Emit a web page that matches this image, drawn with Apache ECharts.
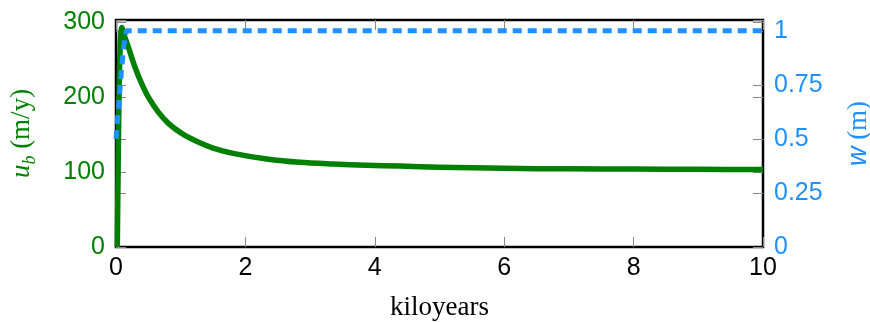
<!DOCTYPE html>
<html>
<head>
<meta charset="utf-8">
<script src="https://cdn.jsdelivr.net/npm/echarts@6/dist/echarts.min.js"></script>
<style>
  html, body { margin: 0; padding: 0; background: #fff; }
  #chart { width: 870px; height: 322px; }
</style>
</head>
<body>
<div id="chart"></div>
<script>
  // 数据
  const ubYears = [0.02, 0.035, 0.05, 0.065, 0.078, 0.088, 0.1, 0.13, 0.19, 0.294, 0.397, 0.5, 0.654, 0.81, 1.015, 1.27, 1.5, 1.81, 2.33, 2.84, 3.36, 3.87, 4.39, 5, 6, 7, 8, 9, 10];
  const ubValues = [0, 120, 220, 270, 288, 293, 291, 282, 267, 240, 218, 200, 180, 165, 151.6, 140, 132, 125, 117.5, 113, 110.7, 109, 108, 106.5, 105, 104.3, 104, 103.7, 103.5];
  const wYears = [0, 0.04, 0.08, 0.12, 0.16, 10];
  const wValues = [0.5, 0.65, 0.8, 0.93, 1, 1];
  const xTicks = [0, 2, 4, 6, 8, 10];
  const ubTicks = [0, 100, 200, 300];
  const wTicks = [0, 0.25, 0.5, 0.75, 1];

  const green = "#008000";
  const blue = "#1E90FF";
  const sans = "Liberation Sans";
  const serif = "Liberation Serif";

  const tickStyle = { show: true, inside: true, length: 10, lineStyle: { color: "#888", width: 1 } };

  const chart = echarts.init(document.getElementById("chart"), null, { renderer: "canvas" });

  chart.setOption({
    animation: false,
    grid: {
      left: 116,
      right: 107,
      top: 20,
      bottom: 75,
      outerBoundsMode: "none",
      show: true,
      borderColor: "#000",
      borderWidth: 2.5,
      backgroundColor: "transparent",
    },
    xAxis: [
      {
        type: "value",
        position: "bottom",
        min: xTicks[0],
        max: xTicks[xTicks.length - 1],
        interval: 2,
        axisLine: { show: false, onZero: false },
        axisTick: tickStyle,
        splitLine: { show: false },
        axisLabel: { color: "#000", fontFamily: sans, fontSize: 25, margin: 9 },
        name: "kiloyears",
        nameLocation: "middle",
        nameGap: 47,
        nameTextStyle: { color: "#000", fontFamily: serif, fontSize: 27 },
      },
      {
        // 上边的刻度
        type: "value",
        position: "top",
        min: 0,
        max: 10,
        interval: 2,
        axisLine: { show: false, onZero: false },
        axisTick: tickStyle,
        splitLine: { show: false },
        axisLabel: { show: false },
      },
    ],
    yAxis: [
      {
        type: "value",
        position: "left",
        min: 0,
        max: 303,
        interval: 100,
        axisLine: { show: false, onZero: false },
        axisTick: tickStyle,
        splitLine: { show: false },
        axisLabel: {
          color: green,
          fontFamily: sans,
          fontSize: 25,
          margin: 11,
          formatter: (v) => (ubTicks.includes(v) ? String(v) : ""),
        },
        name: "{u|u}{b|b}{p|\u00a0(m/y)}",
        nameLocation: "middle",
        nameRotate: 90,
        nameGap: 80,
        nameTextStyle: {
          color: green,
          rich: {
            u: { fontFamily: serif, fontStyle: "italic", fontSize: 27, lineHeight: 28, verticalAlign: "top", color: green },
            b: { fontFamily: serif, fontStyle: "italic", fontSize: 18, lineHeight: 18, padding: [13, 0, 0, 0], verticalAlign: "top", color: green },
            p: { fontFamily: serif, fontSize: 27, lineHeight: 28, verticalAlign: "top", color: green },
          },
        },
      },
      {
        type: "value",
        position: "right",
        min: 0,
        max: 1.05,
        interval: 0.25,
        axisLine: { show: false, onZero: false },
        axisTick: tickStyle,
        splitLine: { show: false },
        axisLabel: {
          color: blue,
          fontFamily: sans,
          fontSize: 25,
          margin: 11,
          formatter: (v) => (wTicks.includes(v) ? String(v) : ""),
        },
        name: "{w|w}{p|\u00a0(m)}",
        nameLocation: "middle",
        nameRotate: 90,
        nameGap: 82,
        nameTextStyle: {
          color: blue,
          rich: {
            w: { fontFamily: sans, fontStyle: "italic", fontSize: 27, color: blue },
            p: { fontFamily: serif, fontSize: 27, color: blue },
          },
        },
      },
      {
        // 左边画右轴的刻度
        type: "value",
        position: "left",
        min: 0,
        max: 1.05,
        interval: 0.25,
        axisLine: { show: false, onZero: false },
        axisTick: tickStyle,
        splitLine: { show: false },
        axisLabel: { show: false },
      },
      {
        // 右边画左轴的刻度
        type: "value",
        position: "right",
        min: 0,
        max: 303,
        interval: 100,
        axisLine: { show: false, onZero: false },
        axisTick: tickStyle,
        splitLine: { show: false },
        axisLabel: { show: false },
      },
    ],
    series: [
      {
        name: "ub",
        type: "line",
        xAxisIndex: 0,
        yAxisIndex: 0,
        clip: false,
        smooth: 0.3,
        symbol: "none",
        lineStyle: { color: green, width: 5.5, join: "round" },
        data: ubYears.map((x, i) => [x, ubValues[i]]),
        z: 3,
      },
      {
        name: "w",
        type: "line",
        xAxisIndex: 0,
        yAxisIndex: 1,
        clip: false,
        symbol: "none",
        lineStyle: { color: blue, width: 5, type: [9, 6] },
        data: wYears.map((x, i) => [x, wValues[i]]),
        z: 4,
      },
    ],
  });
</script>
</body>
</html>
